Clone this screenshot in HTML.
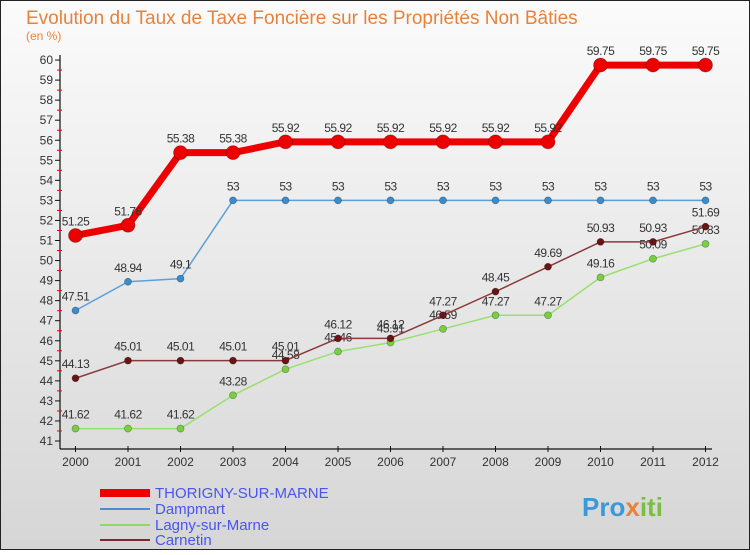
<!DOCTYPE html>
<html><head><meta charset="utf-8"><style>
body{margin:0;width:750px;height:550px;overflow:hidden;font-family:"Liberation Sans",sans-serif;}
</style></head><body>
<svg width="750" height="550" xmlns="http://www.w3.org/2000/svg">
<defs><linearGradient id="bg" x1="0" y1="0" x2="0" y2="1"><stop offset="0" stop-color="#fbfbfb"/><stop offset="1" stop-color="#d6d6d6"/></linearGradient></defs>
<rect x="0.5" y="0.5" width="749" height="549" fill="url(#bg)" stroke="#222"/>
<text x="26" y="24" font-size="19" fill="#e8823a">Evolution du Taux de Taxe Foncière sur les Propriétés Non Bâties</text>
<text x="26" y="40" font-size="12" fill="#e8823a">(en %)</text>
<g id="axes"></g>
<g id="series"></g>
<g id="legend" font-size="15" fill="#4a55ee">
<line x1="100" y1="493" x2="150" y2="493" stroke="#e00" stroke-width="8"/>
<text x="155" y="498">THORIGNY-SUR-MARNE</text>
<line x1="100" y1="509" x2="150" y2="509" stroke="#4a90d0" stroke-width="2"/>
<text x="155" y="514">Dampmart</text>
<line x1="100" y1="525" x2="150" y2="525" stroke="#90d860" stroke-width="2"/>
<text x="155" y="530">Lagny-sur-Marne</text>
<line x1="100" y1="540" x2="150" y2="540" stroke="#7a2a2a" stroke-width="2"/>
<text x="155" y="545">Carnetin</text>
</g>
<text x="582" y="516" font-size="26" font-weight="bold" fill="#3a9ad8">Pro<tspan fill="#e8823a">x</tspan><tspan fill="#7ac040">iti</tspan></text>
</svg>
<script>
const years=[2000,2001,2002,2003,2004,2005,2006,2007,2008,2009,2010,2011,2012];
const yTicks=[41,42,43,44,45,46,47,48,49,50,51,52,53,54,55,56,57,58,59,60];
const thorigny=[51.25,51.76,55.38,55.38,55.92,55.92,55.92,55.92,55.92,55.92,59.75,59.75,59.75];
const dampmart=[47.51,48.94,49.1,53,53,53,53,53,53,53,53,53,53];
const lagny=[41.62,41.62,41.62,43.28,44.58,45.46,45.91,46.59,47.27,47.27,49.16,50.09,50.83];
const carnetin=[44.13,45.01,45.01,45.01,45.01,46.12,46.12,47.27,48.45,49.69,50.93,50.93,51.69];
const NS="http://www.w3.org/2000/svg";
const xs=i=>75.5+i*52.5;
const ys=v=>441-(v-41)*20.05;
function mk(tag,attrs,parent){const e=document.createElementNS(NS,tag);for(const k in attrs)e.setAttribute(k,attrs[k]);parent.appendChild(e);return e;}
const ax=document.getElementById('axes');
let l=mk('line',{x1:60,y1:ys(60)-5,x2:60,y2:449,stroke:'#111','stroke-width':1.2},ax);


l=mk('line',{x1:60,y1:449,x2:712,y2:449,stroke:'#111','stroke-width':1.2},ax);


yTicks.forEach(v=>{
 let t=mk('line',{x1:55,y1:ys(v),x2:60,y2:ys(v),stroke:'#111'},ax);
 
 
 if(v<60){let m=mk('line',{x1:57,y1:ys(v+0.5),x2:62,y2:ys(v+0.5),stroke:'#e00'},ax);
 
 }
 let tx=mk('text',{x:53,y:ys(v)+4,'font-size':12,'text-anchor':'end',fill:'#333'},ax);tx.textContent=v;
 
 
});
years.forEach((y,i)=>{
 let t=mk('line',{x1:xs(i),y1:446,x2:xs(i),y2:452,stroke:'#111'},ax);
 
 
 let tx=mk('text',{x:xs(i),y:466,'font-size':12,'text-anchor':'middle',fill:'#333'},ax);tx.textContent=y;
 
 
});
const sg=document.getElementById('series');
function series(data,name,color,w,r,dot){
 const g=mk('g',{},sg);
 
 
 const p=mk('polyline',{points:data.map((v,i)=>xs(i)+','+ys(v)).join(' '),fill:'none',stroke:color,'stroke-width':w,'stroke-linejoin':'round'},g);
 
 
 data.forEach((v,i)=>{
  const c=mk('circle',{cx:xs(i),cy:ys(v),r:r,fill:dot,stroke:'rgba(0,0,0,0.3)','stroke-width':0.8},g);
  
  
  const t=mk('text',{x:xs(i),y:ys(v)-10,'font-size':12,'text-anchor':'middle',fill:'#333','letter-spacing':'-0.5'},g);
  t.textContent=String(v);
  
  
 });
}
series(dampmart,'dampmart','#5aa0dc',1.5,3.5,'#3a8ccc');
series(lagny,'lagny','#98e070',1.5,3.5,'#78d040');
series(carnetin,'carnetin','#8a3a3a',1.5,3.5,'#6a1515');
series(thorigny,'thorigny','#ee0000',7,7,'#ee0000');
</script>
</body></html>
